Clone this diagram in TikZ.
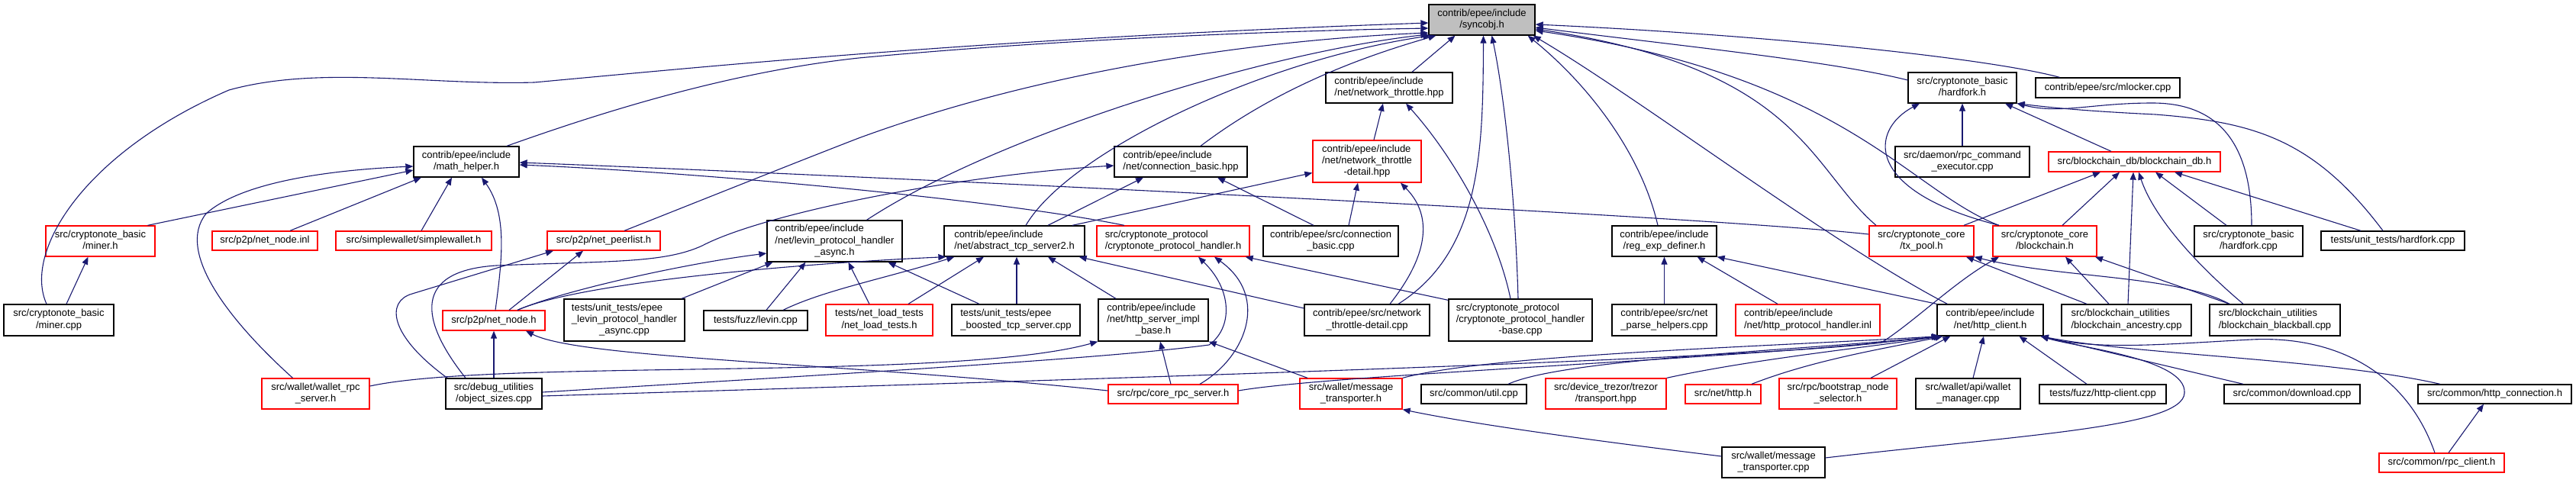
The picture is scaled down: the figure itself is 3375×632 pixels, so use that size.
\documentclass[tikz,border=0pt]{standalone}
\usepackage{fontspec}
\newfontfamily\dxfont{Liberation Sans}
\usetikzlibrary{arrows.meta}
\definecolor{edgecol}{HTML}{191970}
\definecolor{rootfill}{HTML}{BFBFBF}
\newcommand{\labA}[1]{\begin{tabular}{@{}c@{}}#1\end{tabular}}
\newcommand{\labB}[2]{\begin{tabular}{@{}l@{}}#1\\\multicolumn{1}{@{}c@{}}{#2}\end{tabular}}
\newcommand{\labC}[3]{\begin{tabular}{@{}l@{}}#1\\#2\\\multicolumn{1}{@{}c@{}}{#3}\end{tabular}}
\newcommand{\dxnode}[7]{\node[#1, minimum width=#5pt, minimum height=#6pt] (#2) at (#3,#4) {#7};}
\tikzset{
  dxbox/.style={draw=black, line width=1.3pt, fill=white, inner sep=0pt, font=\dxfont\fontsize{13}{15.3}\selectfont},
  dxred/.style={dxbox, draw=red},
  dxroot/.style={dxbox, fill=rootfill},
  dep/.style={draw=edgecol, line width=1.1pt, -{Triangle[length=10pt,width=8pt]}},
}
\begin{document}
\begin{tikzpicture}[x=1pt,y=-1pt]
\useasboundingbox (0,0) rectangle (3375,632);
% row 0-1
\dxnode{dxroot}{sync}{1941.5}{26}{139}{40}{\labB{contrib/epee/include}{/syncobj.h}}
\dxnode{dxbox}{nthr}{1820}{115}{166}{40}{\labB{contrib/epee/include}{/net/network\_throttle.hpp}}
\dxnode{dxbox}{hfh}{2571}{115}{142}{40}{\labB{src/cryptonote\_basic}{/hardfork.h}}
\dxnode{dxbox}{mlock}{2761.5}{115}{189}{26}{\labA{contrib/epee/src/mlocker.cpp}}
% row 2
\dxnode{dxbox}{mathh}{611}{212}{138}{40}{\labB{contrib/epee/include}{/math\_helper.h}}
\dxnode{dxbox}{cbh}{1547}{212}{174}{40}{\labB{contrib/epee/include}{/net/connection\_basic.hpp}}
\dxnode{dxred}{ntdh}{1791}{211.5}{142}{55}{\labC{contrib/epee/include}{/net/network\_throttle}{-detail.hpp}}
\dxnode{dxbox}{rpcce}{2571}{212}{176}{40}{\labB{src/daemon/rpc\_command}{\_executor.cpp}}
\dxnode{dxred}{bcdb}{2796.5}{212}{225}{26}{\labA{src/blockchain\_db/blockchain\_db.h}}
% row 3
\dxnode{dxred}{minerh}{131.5}{316}{143}{40}{\labB{src/cryptonote\_basic}{/miner.h}}
\dxnode{dxred}{nninl}{347}{315.5}{138}{25}{\labA{src/p2p/net\_node.inl}}
\dxnode{dxred}{swh}{542}{315.5}{204}{25}{\labA{src/simplewallet/simplewallet.h}}
\dxnode{dxred}{npl}{791}{315.5}{148}{25}{\labA{src/p2p/net\_peerlist.h}}
\dxnode{dxbox}{lasync}{1093.5}{316}{177}{54}{\labC{contrib/epee/include}{/net/levin\_protocol\_handler}{\_async.h}}
\dxnode{dxbox}{ats2}{1329}{316}{184}{40}{\labB{contrib/epee/include}{/net/abstract\_tcp\_server2.h}}
\dxnode{dxred}{cph}{1537}{316}{200}{40}{\labB{src/cryptonote\_protocol}{/cryptonote\_protocol\_handler.h}}
\dxnode{dxbox}{cbcpp}{1743.5}{316}{177}{40}{\labB{contrib/epee/src/connection}{\_basic.cpp}}
\dxnode{dxbox}{regexp}{2180.5}{316}{137}{40}{\labB{contrib/epee/include}{/reg\_exp\_definer.h}}
\dxnode{dxred}{txpool}{2517.5}{316}{137}{40}{\labB{src/cryptonote\_core}{/tx\_pool.h}}
\dxnode{dxred}{bch}{2679}{316}{136}{40}{\labB{src/cryptonote\_core}{/blockchain.h}}
\dxnode{dxbox}{hfcpp}{2946}{316}{142}{40}{\labB{src/cryptonote\_basic}{/hardfork.cpp}}
\dxnode{dxbox}{uthf}{3135}{315.5}{188}{25}{\labA{tests/unit\_tests/hardfork.cpp}}
% row 4
\dxnode{dxbox}{minercpp}{77}{419.5}{144}{41}{\labB{src/cryptonote\_basic}{/miner.cpp}}
\dxnode{dxred}{nnh}{647}{420}{134}{26}{\labA{src/p2p/net\_node.h}}
\dxnode{dxbox}{utlevin}{818}{419.5}{158}{55}{\labC{tests/unit\_tests/epee}{\_levin\_protocol\_handler}{\_async.cpp}}
\dxnode{dxbox}{fuzzlevin}{990}{420}{136}{26}{\labA{tests/fuzz/levin.cpp}}
\dxnode{dxred}{nlt}{1152}{419.5}{140}{41}{\labB{tests/net\_load\_tests}{/net\_load\_tests.h}}
\dxnode{dxbox}{boosted}{1331}{419.5}{168}{41}{\labB{tests/unit\_tests/epee}{\_boosted\_tcp\_server.cpp}}
\dxnode{dxbox}{hsib}{1511}{419.5}{144}{55}{\labC{contrib/epee/include}{/net/http\_server\_impl}{\_base.h}}
\dxnode{dxbox}{ntdcpp}{1791}{419.5}{164}{41}{\labB{contrib/epee/src/network}{\_throttle-detail.cpp}}
\dxnode{dxbox}{cpbase}{1992}{419.5}{188}{55}{\labC{src/cryptonote\_protocol}{/cryptonote\_protocol\_handler}{-base.cpp}}
\dxnode{dxbox}{nph}{2180.5}{419.5}{137}{41}{\labB{contrib/epee/src/net}{\_parse\_helpers.cpp}}
\dxnode{dxred}{hpi}{2368.5}{419.5}{189}{41}{\labB{contrib/epee/include}{/net/http\_protocol\_handler.inl}}
\dxnode{dxbox}{hcl}{2607.5}{419.5}{139}{41}{\labB{contrib/epee/include}{/net/http\_client.h}}
\dxnode{dxbox}{bca}{2786}{419.5}{170}{41}{\labB{src/blockchain\_utilities}{/blockchain\_ancestry.cpp}}
\dxnode{dxbox}{bcb}{2980.5}{419.5}{171}{41}{\labB{src/blockchain\_utilities}{/blockchain\_blackball.cpp}}
% row 5
\dxnode{dxred}{wrpc}{413.5}{516}{141}{40}{\labB{src/wallet/wallet\_rpc}{\_server.h}}
\dxnode{dxbox}{objsz}{647}{516}{126}{40}{\labB{src/debug\_utilities}{/object\_sizes.cpp}}
\dxnode{dxred}{crpc}{1537}{516.5}{170}{25}{\labA{src/rpc/core\_rpc\_server.h}}
\dxnode{dxred}{mth}{1770}{516}{134}{40}{\labB{src/wallet/message}{\_transporter.h}}
\dxnode{dxbox}{utilcpp}{1931}{516.5}{138}{25}{\labA{src/common/util.cpp}}
\dxnode{dxred}{trez}{2104}{516}{158}{40}{\labB{src/device\_trezor/trezor}{/transport.hpp}}
\dxnode{dxred}{nethttp}{2257.5}{516.5}{99}{25}{\labA{src/net/http.h}}
\dxnode{dxred}{boot}{2408}{516}{154}{40}{\labB{src/rpc/bootstrap\_node}{\_selector.h}}
\dxnode{dxbox}{wman}{2578.5}{516}{137}{40}{\labB{src/wallet/api/wallet}{\_manager.cpp}}
\dxnode{dxbox}{fuzzhc}{2755}{516.5}{166}{25}{\labA{tests/fuzz/http-client.cpp}}
\dxnode{dxbox}{dl}{3003}{516.5}{178}{25}{\labA{src/common/download.cpp}}
\dxnode{dxbox}{hconn}{3268.5}{516.5}{201}{25}{\labA{src/common/http\_connection.h}}
% row 6
\dxnode{dxbox}{mtcpp}{2323.5}{606}{135}{40}{\labB{src/wallet/message}{\_transporter.cpp}}
\dxnode{dxred}{rpccl}{3199}{606.5}{164}{25}{\labA{src/common/rpc\_client.h}}

% ---- edges into syncobj.h
\draw[dep] ([xshift=-16]minercpp.north) .. controls (30,330) and (110,200) .. (300,118) .. controls (420,85) and (560,112) .. (700,108) .. controls (950,85) and (1300,50) .. ([yshift=-4]sync.west);
\draw[dep] ([xshift=53]mathh.north) .. controls (780,150) and (950,95) .. (1125,76) .. controls (1400,50) and (1700,40) .. ([yshift=-11]sync.west);
\draw[dep] ([xshift=27]npl.north) .. controls (950,250) and (1050,210) .. (1125,181) .. controls (1400,80) and (1700,50) .. ([yshift=-17]sync.west);
\draw[dep] ([xshift=42]lasync.north) .. controls (1300,180) and (1650,70) .. ([yshift=-19]sync.west);
\draw[dep] ([xshift=15]ats2.north) .. controls (1400,200) and (1650,80) .. ([xshift=3]sync.south west);
\draw[dep] ([xshift=26]cbh.north) .. controls (1680,110) and (1800,70) .. ([xshift=10]sync.south west);
\draw[dep] ([xshift=30]nthr.north) -- ([xshift=-35]sync.south);
\draw[dep] ([xshift=41]ntdcpp.north) .. controls (1940,330) and (1943,200) .. ([xshift=2]sync.south);
\draw[dep] ([xshift=-3]cpbase.north) .. controls (1985,250) and (1970,120) .. ([xshift=13]sync.south);
\draw[dep] ([xshift=-8.5]regexp.north) .. controls (2150,200) and (2080,110) .. ([xshift=-10]sync.south east);
\draw[dep] ([xshift=14]hcl.north west) .. controls (2400,320) and (2150,130) .. ([xshift=-3]sync.south east);
\draw[dep] ([xshift=-63]mlock.north) .. controls (2600,75) and (2300,45) .. ([yshift=-6]sync.east);
\draw[dep] ([yshift=10]hfh.west) .. controls (2400,80) and (2200,60) .. ([yshift=-10]sync.east);
\draw[dep] ([xshift=-59.5]txpool.north) .. controls (2370,220) and (2360,90) .. ([yshift=-12]sync.east);
\draw[dep] ([xshift=-60]bch.north) .. controls (2500,250) and (2420,100) .. ([yshift=-14]sync.east);

% ---- left part
\draw[dep] ([xshift=10]minercpp.north) -- ([xshift=-16]minerh.south);
\draw[dep] ([xshift=62]minerh.north) -- ([yshift=-11]mathh.west);
\draw[dep] ([xshift=33]nninl.north) -- ([xshift=-59]mathh.south);
\draw[dep] ([xshift=10]swh.north) -- ([xshift=-19]mathh.south);
\draw[dep] ([xshift=2]nnh.north) .. controls (658,340) and (665,280) .. ([xshift=20]mathh.south);
\draw[dep] ([xshift=-30]wrpc.north) .. controls (300,420) and (230,330) .. (270,280) .. controls (320,235) and (450,222) .. ([yshift=-6]mathh.west);
\draw[dep] ([yshift=9]txpool.west) .. controls (2200,280) and (1000,225) .. ([yshift=-1]mathh.east);
\draw[dep] ([xshift=-64]cph.north) .. controls (1300,260) and (900,225) .. ([yshift=-4]mathh.east);
\draw[dep] ([xshift=20]nnh.north) -- ([xshift=-27]npl.south);
\draw[dep] ([xshift=-61]objsz.north) .. controls (510,440) and (505,395) .. (540,385) -- ([xshift=-66]npl.south);
\draw[dep] ([xshift=-37]objsz.north) .. controls (550,420) and (540,355) .. (650,348) .. controls (800,342) and (870,345) .. (920,322) .. controls (1000,280) and (1250,230) .. ([yshift=-5]cbh.west);
\draw[dep] ([xshift=31]nnh.north) .. controls (740,380) and (900,345) .. ([yshift=-16]lasync.west);
\draw[dep] ([xshift=31]nnh.north) .. controls (760,370) and (1050,345) .. ([xshift=3]ats2.south west);
\draw[dep] (objsz.north) -- (nnh.south);
\draw[dep] ([xshift=75]utlevin.north) -- ([xshift=-81]lasync.south);
\draw[dep] ([xshift=14]fuzzlevin.north) -- ([xshift=-38]lasync.south);
\draw[dep] ([xshift=36]fuzzlevin.north) .. controls (1080,380) and (1160,365) .. ([xshift=14]ats2.south west);
\draw[dep] ([xshift=-13]nlt.north) -- ([xshift=18]lasync.south);
\draw[dep] ([xshift=38]nlt.north) -- ([xshift=-40]ats2.south);
\draw[dep] ([xshift=-48]boosted.north) -- ([xshift=70]lasync.south);
\draw[dep] ([xshift=1]boosted.north) -- ([xshift=3]ats2.south);
\draw[dep] ([xshift=-49]hsib.north) -- ([xshift=44]ats2.south);
\draw[dep] ([yshift=15.5]ntdcpp.west) -- ([xshift=-8]ats2.south east);

% ---- middle
\draw[dep] ([xshift=44]ats2.north) -- ([xshift=-49]cbh.south);
\draw[dep] ([xshift=-22.5]cbcpp.north) -- ([xshift=48]cbh.south);
\draw[dep] ([xshift=76]ats2.north) -- ([yshift=-15]ntdh.west);
\draw[dep] ([xshift=23.5]cbcpp.north) -- ([xshift=-12]ntdh.south);
\draw[dep] ([xshift=30]ntdcpp.north) .. controls (1875,330) and (1875,280) .. ([xshift=44]ntdh.south);
\draw[dep] ([xshift=9]ntdh.north) -- ([xshift=-8]nthr.south);
\draw[dep] ([xshift=-13]cpbase.north) .. controls (1960,300) and (1900,200) .. ([xshift=22]nthr.south);
\draw[dep] ([yshift=-2]cpbase.north west) -- ([xshift=-6]cph.south east);
\draw[dep] ([yshift=2]objsz.east) .. controls (1100,490) and (1450,470) .. (1584,452) .. controls (1615,430) and (1615,380) .. ([xshift=33]cph.south);
\draw[dep] ([xshift=35]crpc.north) .. controls (1630,470) and (1665,390) .. ([xshift=54]cph.south);
\draw[dep] ([yshift=4.5]crpc.west) .. controls (1100,475) and (760,470) .. ([xshift=42]nnh.south);
\draw[dep] ([xshift=-3]crpc.north) -- ([xshift=9]hsib.south);
\draw[dep] ([yshift=10]wrpc.east) .. controls (650,470) and (1250,500) .. (hsib.south west);
\draw[dep] ([xshift=-57]mth.north) -- (hsib.south east);
\draw[dep] ([yshift=8]mtcpp.west) .. controls (2150,585) and (1950,560) .. (mth.south east);

% ---- reg_exp_definer
\draw[dep] (nph.north) -- (regexp.south);
\draw[dep] ([xshift=-39.5]hpi.north) -- ([xshift=-26]regexp.south east);
\draw[dep] (hcl.north west) -- (regexp.south east);

% ---- right part
\draw[dep] (rpcce.north) -- (hfh.south);
\draw[dep] ([xshift=-30.5]bcdb.north) -- ([xshift=56]hfh.south);
\draw[dep] ([xshift=-60]bch.north) .. controls (2440,250) and (2450,170) .. ([xshift=-56]hfh.south);
\draw[dep] ([xshift=4]hfcpp.north) .. controls (2950,180) and (2900,135) .. (2820,135) .. controls (2740,135) and (2700,150) .. (hfh.south east);
\draw[dep] ([xshift=-13]uthf.north) .. controls (3030,180) and (2950,160) .. (2824,150) .. controls (2720,145) and (2680,140) .. (hfh.south east);
\draw[dep] ([xshift=55.5]txpool.north) -- ([xshift=-44.5]bcdb.south);
\draw[dep] ([xshift=23]bch.north) -- ([xshift=-19.5]bcdb.south);
\draw[dep] ([xshift=2]bca.north) -- ([xshift=-1.5]bcdb.south);
\draw[dep] ([xshift=-41.5]bcb.north) .. controls (2870,340) and (2820,280) .. ([xshift=5.5]bcdb.south);
\draw[dep] ([xshift=-29]hfcpp.north) -- ([xshift=27.5]bcdb.south);
\draw[dep] ([xshift=-42]uthf.north) -- ([xshift=52.5]bcdb.south);
\draw[dep] ([xshift=-52]bca.north) -- ([xshift=58.5]txpool.south);
\draw[dep] ([xshift=-59.5]bcb.north) .. controls (2850,360) and (2700,365) .. (txpool.south east);
\draw[dep] ([xshift=-23]bca.north) -- ([xshift=27]bch.south);
\draw[dep] ([xshift=-59.5]bcb.north) -- ([xshift=66]bch.south);
\draw[dep] ([yshift=-3]objsz.east) .. controls (1500,495) and (2300,470) .. (2465,449) .. controls (2510,420) and (2560,370) .. ([xshift=-60]bch.south);

% ---- into http_client.h
\draw[dep] ([yshift=4.5]crpc.east) .. controls (1750,490) and (2300,470) .. ([xshift=3]hcl.south west);
\draw[dep] (mth.north east) .. controls (1950,465) and (2300,455) .. ([xshift=4]hcl.south west);
\draw[dep] ([xshift=45]utilcpp.north) .. controls (2050,470) and (2350,460) .. ([xshift=5]hcl.south west);
\draw[dep] (trez.north east) .. controls (2300,470) and (2450,455) .. ([xshift=6]hcl.south west);
\draw[dep] ([xshift=37.5]nethttp.north) .. controls (2380,470) and (2480,455) .. ([xshift=8]hcl.south west);
\draw[dep] ([xshift=43]boot.north) -- ([xshift=18]hcl.south west);
\draw[dep] ([xshift=6.5]wman.north) -- ([xshift=-8.5]hcl.south);
\draw[dep] ([xshift=-21]fuzzhc.north) -- ([xshift=38]hcl.south);
\draw[dep] ([xshift=-64]dl.north) -- ([xshift=-4]hcl.south east);
\draw[dep] ([xshift=-71.5]hconn.north) .. controls (3050,470) and (2800,465) .. ([xshift=-4]hcl.south east);
\draw[dep] ([xshift=-9]rpccl.north) .. controls (3150,480) and (3050,440) .. (2950,445) .. controls (2850,450) and (2750,460) .. ([xshift=-4]hcl.south east);
\draw[dep] ([yshift=6]mtcpp.east) .. controls (2650,570) and (2860,560) .. (2862,515) .. controls (2865,470) and (2720,455) .. ([xshift=-4]hcl.south east);
\draw[dep] ([xshift=9]rpccl.north) -- ([xshift=-14.5]hconn.south);
\end{tikzpicture}
\end{document}
